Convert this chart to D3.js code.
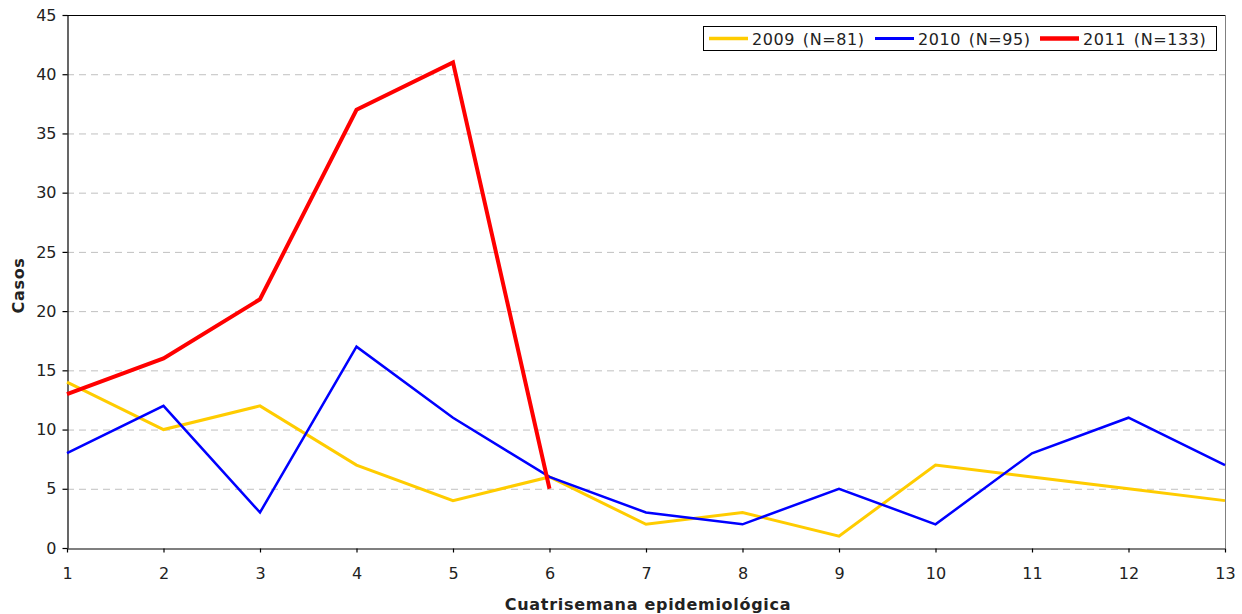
<!DOCTYPE html>
<html><head><meta charset="utf-8">
<script src="https://cdn.jsdelivr.net/npm/d3@7"></script>
<style>body{margin:0;background:#fff}svg{display:block;font-family:"DejaVu Sans",Verdana,sans-serif}</style>
</head><body><svg id="c" width="1242" height="614"></svg>
<script>
const categories = [1,2,3,4,5,6,7,8,9,10,11,12,13];
const s2009 = [14,10,12,7,4,6,2,3,1,7,6,5,4];
const s2010 = [8,12,3,17,11,6,3,2,5,2,8,11,7];
const s2011 = [13,16,21,37,41,5];
const yTicks = [0,5,10,15,20,25,30,35,40,45];
const seriesNames = ["2009 (N=81)","2010 (N=95)","2011 (N=133)"];
const seriesColors = ["#FFCC00","#0000FF","#FF0000"];
const seriesWidths = [3,2.5,4];

const svg = d3.select("#c");
const L=67,R=1225,T=15,B=548;
const x = d3.scaleLinear().domain([1,13]).range([L,R]);
const y = d3.scaleLinear().domain([0,45]).range([B,T]);

// grid
svg.append("g").selectAll("line").data(yTicks.filter(d=>d>0&&d<45)).join("line")
  .attr("x1",L).attr("x2",R).attr("y1",d=>y(d)+0.5).attr("y2",d=>y(d)+0.5)
  .attr("stroke","#c0c0c0").attr("stroke-dasharray","7,5");
// frame top & right
svg.append("line").attr("x1",L).attr("x2",R).attr("y1",y(45)+0.5).attr("y2",y(45)+0.5).attr("stroke","#000");
svg.append("line").attr("x1",R+0.5).attr("x2",R+0.5).attr("y1",T).attr("y2",B).attr("stroke","#808080");

const yAx = svg.append("g").attr("transform",`translate(${L+0.5},0)`)
  .call(d3.axisLeft(y).tickValues(yTicks).tickSize(5).tickPadding(6).tickSizeOuter(0));
const xAx = svg.append("g").attr("transform",`translate(0,${B+0.5})`)
  .call(d3.axisBottom(x).tickValues(categories).tickSize(4).tickPadding(15).tickSizeOuter(0));
[yAx,xAx].forEach(a=>{
  a.selectAll("text").attr("font-size","16px").attr("fill","#222").attr("font-family","DejaVu Sans, Verdana, sans-serif");
  a.selectAll("line,path").attr("stroke","#000").attr("stroke-width",1.2);
});

const line = d3.line().x((d,i)=>x(categories[i])).y(d=>y(d));
[s2009,s2010,s2011].forEach((s,k)=>{
  svg.append("path").datum(s).attr("d",line).attr("fill","none")
    .attr("stroke",seriesColors[k]).attr("stroke-width",seriesWidths[k]).attr("stroke-linejoin","miter");
});

// axis titles
svg.append("text").attr("x",(L+R)/2+2).attr("y",610).attr("text-anchor","middle")
  .attr("font-size","16px").attr("letter-spacing","0.7px").attr("font-weight","bold").attr("fill","#222").text("Cuatrisemana epidemiológica");
svg.append("text").attr("transform",`translate(24,${(T+B)/2+4}) rotate(-90)`).attr("text-anchor","middle")
  .attr("font-size","16px").attr("letter-spacing","0.7px").attr("font-weight","bold").attr("fill","#222").text("Casos");

// legend
const lg = svg.append("g");
lg.append("rect").attr("x",703.5).attr("y",26.5).attr("width",513).attr("height",24).attr("fill","#fff").attr("stroke","#000");
const lx=[709,875,1040];
seriesNames.forEach((n,k)=>{
  lg.append("line").attr("x1",lx[k]).attr("x2",lx[k]+39).attr("y1",38.5).attr("y2",38.5)
    .attr("stroke",seriesColors[k]).attr("stroke-width",seriesWidths[k]+0.5);
  lg.append("text").attr("x",lx[k]+43).attr("y",44.5).attr("font-size","16px")
    .attr("letter-spacing","0.6px").attr("word-spacing","2px").attr("fill","#222").text(n);
});
</script></body></html>
